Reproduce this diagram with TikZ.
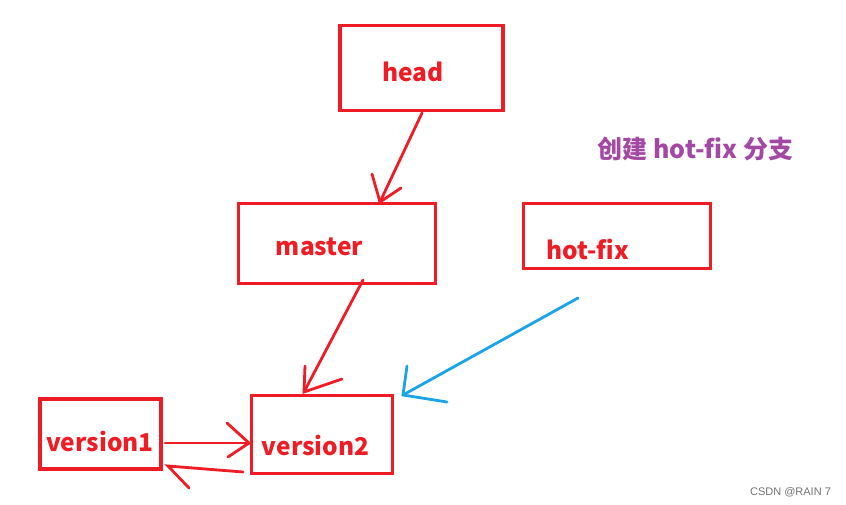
\documentclass[tikz,border=0pt]{standalone}
\usepackage{fontspec}
\setmainfont{Noto Sans CJK SC}
\newfontfamily\wmfont{Liberation Sans}
\definecolor{pred}{HTML}{EE1C25}
\definecolor{ppurple}{HTML}{A349A4}
\definecolor{pblue}{HTML}{1AA3E8}
\tikzset{
  box/.style={draw=pred, line width=3.2pt, inner sep=0pt, minimum width=#1},
  lbl/.style={text=pred, font=\fontsize{24.5}{28}\selectfont\bfseries, anchor=base, inner sep=0pt},
  redline/.style={draw=pred, line width=2.8pt, line cap=round},
  blueline/.style={draw=pblue, line width=2.8pt, line cap=round},
}
\begin{document}
\begin{tikzpicture}[x=1pt,y=-1pt]
\useasboundingbox (0,0) rectangle (846,505);
% boxes
\node[box=163pt, minimum height=85.5pt] (head) at (421.5,68) {};
\node[box=197pt, minimum height=80pt] (master) at (337,243.5) {};
\node[box=187.5pt, minimum height=65pt] (hotfix) at (617,236) {};
\node[box=121pt, minimum height=70pt] (v1) at (100.5,434) {};
\node[box=141pt, minimum height=78pt] (v2) at (322,434.5) {};
% labels
\node[lbl] (headt) at (413,82) {head};
\node[lbl] (mastert) at (319.5,255) {master};
\node[lbl] (hotfixt) at (587.5,259) {hot-fix};
\node[lbl] (v1t) at (100,451) {version1};
\node[lbl] (v2t) at (315.5,455) {version2};
\node[text=ppurple, font=\fontsize{25}{28}\selectfont\bfseries, anchor=base, inner sep=0pt] (note) at (695.5,159) {创建 hot-fix 分支};
\node[text=black!55, font=\wmfont\fontsize{11}{13}\selectfont, anchor=base, inner sep=0pt] (wm) at (790.5,495) {CSDN @RAIN 7};
% connector points
\coordinate (hmS) at (422,113);
\coordinate (hmE) at (380,202);
\coordinate (hmL) at (372,174);
\coordinate (hmR) at (401,188);
\coordinate (mvS) at (363,280);
\coordinate (mvE) at (304,392);
\coordinate (mvL) at (305,366);
\coordinate (mvR) at (342,379);
\coordinate (bS) at (578,298);
\coordinate (bE) at (403,395);
\coordinate (bL) at (407,366);
\coordinate (bR) at (447,402);
\coordinate (avS) at (165,443);
\coordinate (avE) at (249,443);
\coordinate (avU) at (227,423);
\coordinate (avD) at (228,457);
\coordinate (baS) at (243,472);
\coordinate (baE) at (168,466);
\coordinate (baD) at (189,488);
% head -> master
\draw[redline] (hmS) -- (hmE);
\draw[redline] (hmL) -- (hmE) -- (hmR);
% master -> version2
\draw[redline] (mvS) -- (mvE);
\draw[redline] (mvL) -- (mvE) -- (mvR);
% hot-fix -> version2 (blue)
\draw[blueline] (bS) -- (bE);
\draw[blueline] (bL) -- (bE) -- (bR);
% version1 -> version2
\draw[redline] (avS) -- (avE);
\draw[redline] (avU) -- (avE) -- (avD);
% version2 -> version1
\draw[redline] (baS) -- (baE) -- (baD);
\end{tikzpicture}
\end{document}
